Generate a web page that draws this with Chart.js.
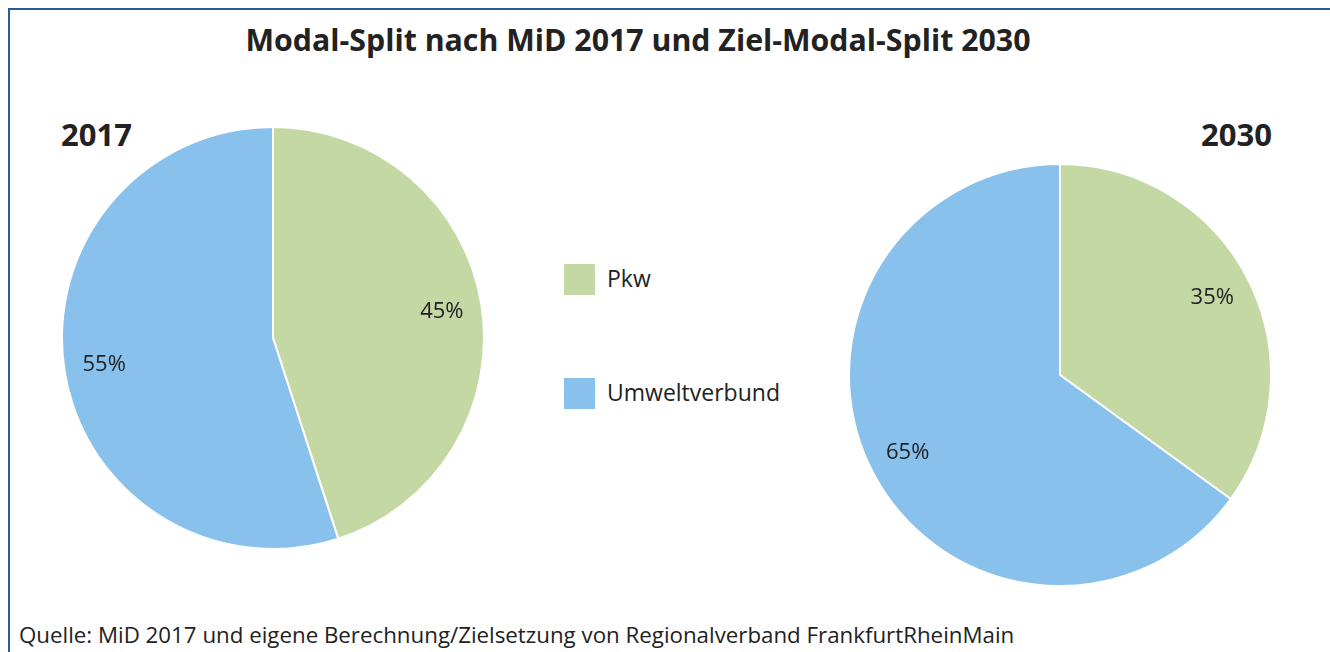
<!DOCTYPE html>
<html>
<head>
<meta charset="utf-8">
<script src="https://cdn.jsdelivr.net/npm/chart.js@4/dist/chart.umd.min.js"></script>
<style>
  body { margin: 0; width: 1330px; height: 652px; background: #fff; overflow: hidden; position: relative;
         font-family: "Open Sans", "Noto Sans", sans-serif; color: #222; }
  #frame { position: absolute; left: 8px; top: 8px; width: 1400px; height: 700px;
           border-top: 2px solid #2c5a9c; border-left: 2px solid #2c5a9c; }
  .t { position: absolute; white-space: nowrap; }
  #title { left: 0; width: 1276px; top: 19px; text-align: center; font-weight: bold; font-size: 30.3px; }
  .year { top: 113px; font-weight: bold; font-size: 31px; }
  #source { left: 19px; top: 619px; font-size: 22.3px; }
  .leg { position: absolute; left: 564px; width: 31px; height: 31px; }
  .legt { left: 607px; font-size: 23px; }
  .pie { position: absolute; width: 424px; height: 424px; }
</style>
</head>
<body>
<div id="frame"></div>
<div class="t" id="title">Modal-Split nach MiD 2017 und Ziel-Modal-Split 2030</div>
<div class="t year" style="left:61px">2017</div>
<div class="t year" style="left:1201px">2030</div>
<div class="leg" id="leg0" style="top:264px"></div>
<div class="t legt" id="legt0" style="top:262px"></div>
<div class="leg" id="leg1" style="top:378px"></div>
<div class="t legt" id="legt1" style="top:376px"></div>
<div class="pie" style="left:61px;top:126px"><canvas id="pie2017"></canvas></div>
<div class="pie" style="left:848px;top:163px"><canvas id="pie2030"></canvas></div>
<div class="t" id="source">Quelle: MiD 2017 und eigene Berechnung/Zielsetzung von Regionalverband FrankfurtRheinMain</div>
<script>
var categories = ["Pkw", "Umweltverbund"];
var values2017 = [45, 55];
var values2030 = [35, 65];
var colors = ["#c4d8a4", "#88c1ec"];

categories.forEach(function (c, i) {
  document.getElementById("leg" + i).style.background = colors[i];
  document.getElementById("legt" + i).textContent = c;
});

// draws the percent labels inside the slices
var sliceLabels = {
  id: "sliceLabels",
  afterDatasetsDraw: function (chart) {
    var ctx = chart.ctx;
    var meta = chart.getDatasetMeta(0);
    ctx.save();
    ctx.font = '22px "Open Sans", "Noto Sans", sans-serif';
    ctx.fillStyle = "#222";
    ctx.textAlign = "center";
    ctx.textBaseline = "middle";
    meta.data.forEach(function (arc, i) {
      var mid = (arc.startAngle + arc.endAngle) / 2;
      var r = arc.outerRadius * 0.81;
      ctx.fillText(chart.data.datasets[0].data[i] + "%", arc.x + Math.cos(mid) * r, arc.y + Math.sin(mid) * r);
    });
    ctx.restore();
  }
};

function makePie(id, data) {
  new Chart(document.getElementById(id).getContext("2d"), {
    type: "pie",
    data: {
      labels: categories,
      datasets: [{ data: data, backgroundColor: colors, borderColor: "#fff", borderWidth: 2 }]
    },
    options: {
      responsive: true,
      maintainAspectRatio: false,
      animation: false,
      plugins: { legend: { display: false }, tooltip: { enabled: false } }
    },
    plugins: [sliceLabels]
  });
}

makePie("pie2017", values2017);
makePie("pie2030", values2030);
</script>
</body>
</html>
